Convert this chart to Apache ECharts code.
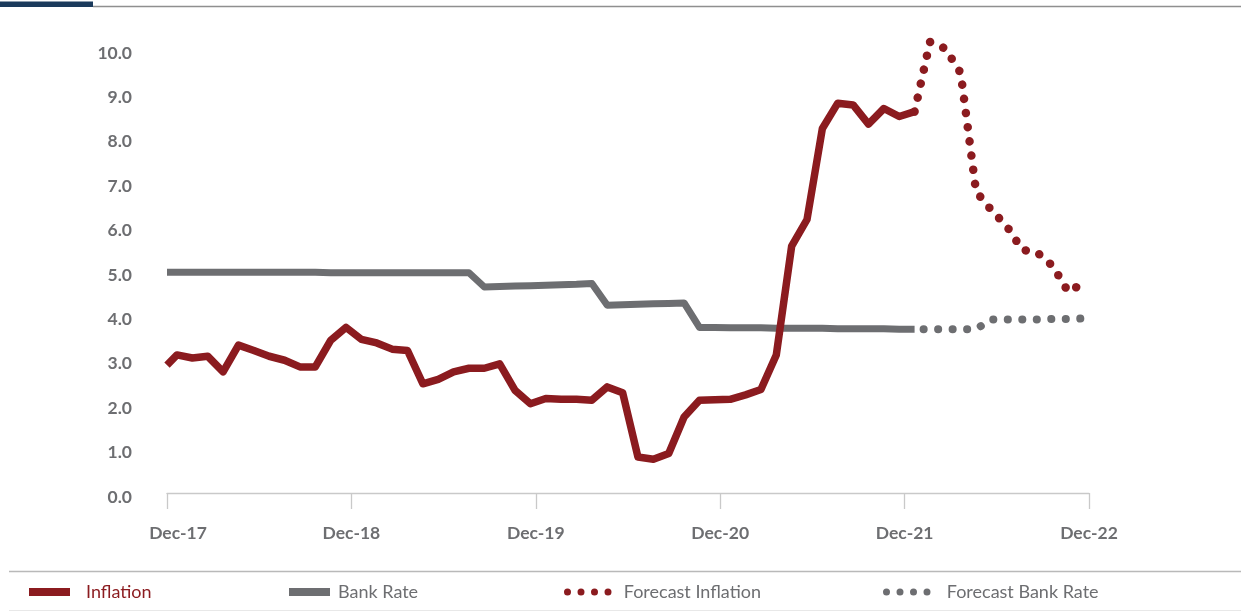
<!DOCTYPE html>
<html>
<head>
<meta charset="utf-8">
<script src="https://cdn.jsdelivr.net/npm/echarts@6/dist/echarts.min.js"></script>
<style>
html,body{margin:0;padding:0;background:#fff;}
#chart{width:1241px;height:612px;}
</style>
</head>
<body>
<div id="chart"></div>
<script>
// ---- data (x in months since Dec-17; monthly observations dated ~20th of month) ----
const xTickLabels = ['Dec-17', 'Dec-18', 'Dec-19', 'Dec-20', 'Dec-21', 'Dec-22'];
const obsDayOffset = 0.65;

const inflationAtAxisStart = 2.97;
const inflation = [3.2, 3.13, 3.17, 2.82, 3.42, 3.3, 3.17, 3.08, 2.93, 2.93,
  3.53, 3.82, 3.55, 3.47, 3.33, 3.3, 2.55, 2.65, 2.82, 2.9,
  2.9, 3.0, 2.4, 2.1, 2.22, 2.2, 2.2, 2.18, 2.48, 2.35,
  0.9, 0.85, 0.98, 1.8, 2.18, 2.19, 2.2, 2.3, 2.42, 3.2,
  5.65, 6.25, 8.3, 8.87, 8.83, 8.4, 8.75, 8.57, 8.68];

const bankRateAtAxisStart = 5.06;
const bankRate = [5.06, 5.06, 5.06, 5.06, 5.06, 5.06, 5.06, 5.06, 5.06, 5.06,
  5.05, 5.05, 5.05, 5.05, 5.05, 5.05, 5.05, 5.05, 5.05, 5.05,
  4.73, 4.74, 4.75, 4.76, 4.77, 4.78, 4.79, 4.81,
  4.32, 4.33, 4.34, 4.35, 4.36, 4.37,
  3.82, 3.82, 3.81, 3.81, 3.81, 3.8, 3.8, 3.8, 3.8, 3.79, 3.79, 3.79, 3.79, 3.78, 3.78];

// forecasts start at the last observation (month index 48)
const forecastStartIndex = 48;
const forecastInflation = [8.68, 10.25, 10.1, 9.55, 6.88, 6.46, 6.1, 5.57, 5.5, 5.2, 4.62, 4.82];
const forecastBankRate = [3.78, 3.78, 3.78, 3.78, 3.78, 4.0, 4.0, 4.0, 4.0, 4.01, 4.01, 4.02];

// ---- build ----
const RED = '#8b1b1f';
const GREY = '#6d6e71';
function obs(arr, start, startVal) {
  const out = [];
  if (startVal !== undefined) out.push([0, startVal]);
  arr.forEach((v, i) => out.push([start + i + obsDayOffset, v]));
  return out;
}
const dotPath = 'path://M0.5,4a3.5,3.5 0 1,0 7,0a3.5,3.5 0 1,0 -7,0z' +
  'M14,4a3.5,3.5 0 1,0 7,0a3.5,3.5 0 1,0 -7,0z' +
  'M27.5,4a3.5,3.5 0 1,0 7,0a3.5,3.5 0 1,0 -7,0z' +
  'M41,4a3.5,3.5 0 1,0 7,0a3.5,3.5 0 1,0 -7,0z';

const FONT = 'Lato';
function legendOf(name, icon, left, w, color, gap) {
  return {
    data: [{ name: name, icon: icon }],
    left: left, top: 583, padding: 0,
    itemWidth: w, itemHeight: icon === 'rect' ? 8 : 7,
    itemStyle: { borderWidth: 0 },
    selectedMode: false,
    textStyle: { fontFamily: FONT, fontSize: 18, color: color, lineHeight: 18, padding: [0, 0, 0, gap] }
  };
}

const chart = echarts.init(document.getElementById('chart'), null, { renderer: 'canvas' });
chart.setOption({
  animation: false,
  backgroundColor: '#fff',
  grid: { left: 167, right: 152, top: 53, bottom: 115, containLabel: false },
  xAxis: {
    type: 'value', min: 0, max: 60, interval: 12,
    offset: -4,
    axisLine: { show: true, lineStyle: { color: '#c9c9c9', width: 1.3 } },
    axisTick: { show: true, length: 16, lineStyle: { color: '#c9c9c9', width: 1.3 } },
    splitLine: { show: false },
    axisLabel: {
      margin: 31,
      fontFamily: FONT, fontWeight: 'bold', fontSize: 17.5, color: GREY,
      formatter: function (v) {
        const lab = xTickLabels[Math.round(v / 12)];
        return v === 0 ? '{first|' + lab + '}' : lab;
      },
      rich: { first: { fontFamily: FONT, fontWeight: 'bold', fontSize: 17.5, color: GREY, padding: [0, 0, 0, 22] } }
    }
  },
  yAxis: {
    type: 'value', min: 0, max: 10, interval: 1,
    axisLine: { show: false }, axisTick: { show: false }, splitLine: { show: false },
    axisLabel: {
      margin: 35, fontFamily: FONT, fontWeight: 'bold', fontSize: 17.5, color: GREY,
      formatter: v => v.toFixed(1)
    }
  },
  legend: [
    legendOf('Inflation', 'rect', 29, 41, RED, 11),
    legendOf('Bank Rate', 'rect', 289, 41, GREY, 3),
    legendOf('Forecast Inflation', dotPath, 564, 48, GREY, 7),
    legendOf('Forecast Bank Rate', dotPath, 883, 48, GREY, 11)
  ],
  graphic: [
    { type: 'rect', shape: { x: 0, y: 1.5, width: 93, height: 5.5 }, style: { fill: '#1b3a5c' }, silent: true },
    { type: 'line', shape: { x1: 93, y1: 6.5, x2: 1241, y2: 6.5 }, style: { stroke: '#8f8f8f', lineWidth: 1.5 }, silent: true },
    { type: 'line', shape: { x1: 9, y1: 571.5, x2: 1241, y2: 571.5 }, style: { stroke: '#b9b9b9', lineWidth: 1.5 }, silent: true },
    { type: 'line', shape: { x1: 9, y1: 610.5, x2: 1241, y2: 610.5 }, style: { stroke: '#e8e8e8', lineWidth: 1 }, silent: true }
  ],
  series: [
    {
      name: 'Bank Rate', type: 'line', color: GREY, showSymbol: false, symbol: 'none',
      data: obs(bankRate, 0, bankRateAtAxisStart),
      lineStyle: { color: GREY, width: 7, join: 'round', cap: 'butt' }
    },
    {
      name: 'Forecast Bank Rate', type: 'line', color: GREY, showSymbol: false, symbol: 'none', clip: false,
      data: obs(forecastBankRate, forecastStartIndex),
      lineStyle: { color: GREY, width: 8, type: [0.1, 14.4], dashOffset: 5.5, cap: 'round', join: 'round' }
    },
    {
      name: 'Inflation', type: 'line', color: RED, showSymbol: false, symbol: 'none',
      data: obs(inflation, 0, inflationAtAxisStart),
      lineStyle: { color: RED, width: 7.5, join: 'round', cap: 'butt' }
    },
    {
      name: 'Forecast Inflation', type: 'line', color: RED, showSymbol: false, symbol: 'none', clip: false,
      data: obs(forecastInflation, forecastStartIndex),
      lineStyle: { color: RED, width: 8.5, type: [0.1, 14.2], dashOffset: 0, cap: 'round', join: 'round' }
    }
  ]
});
</script>
</body>
</html>
